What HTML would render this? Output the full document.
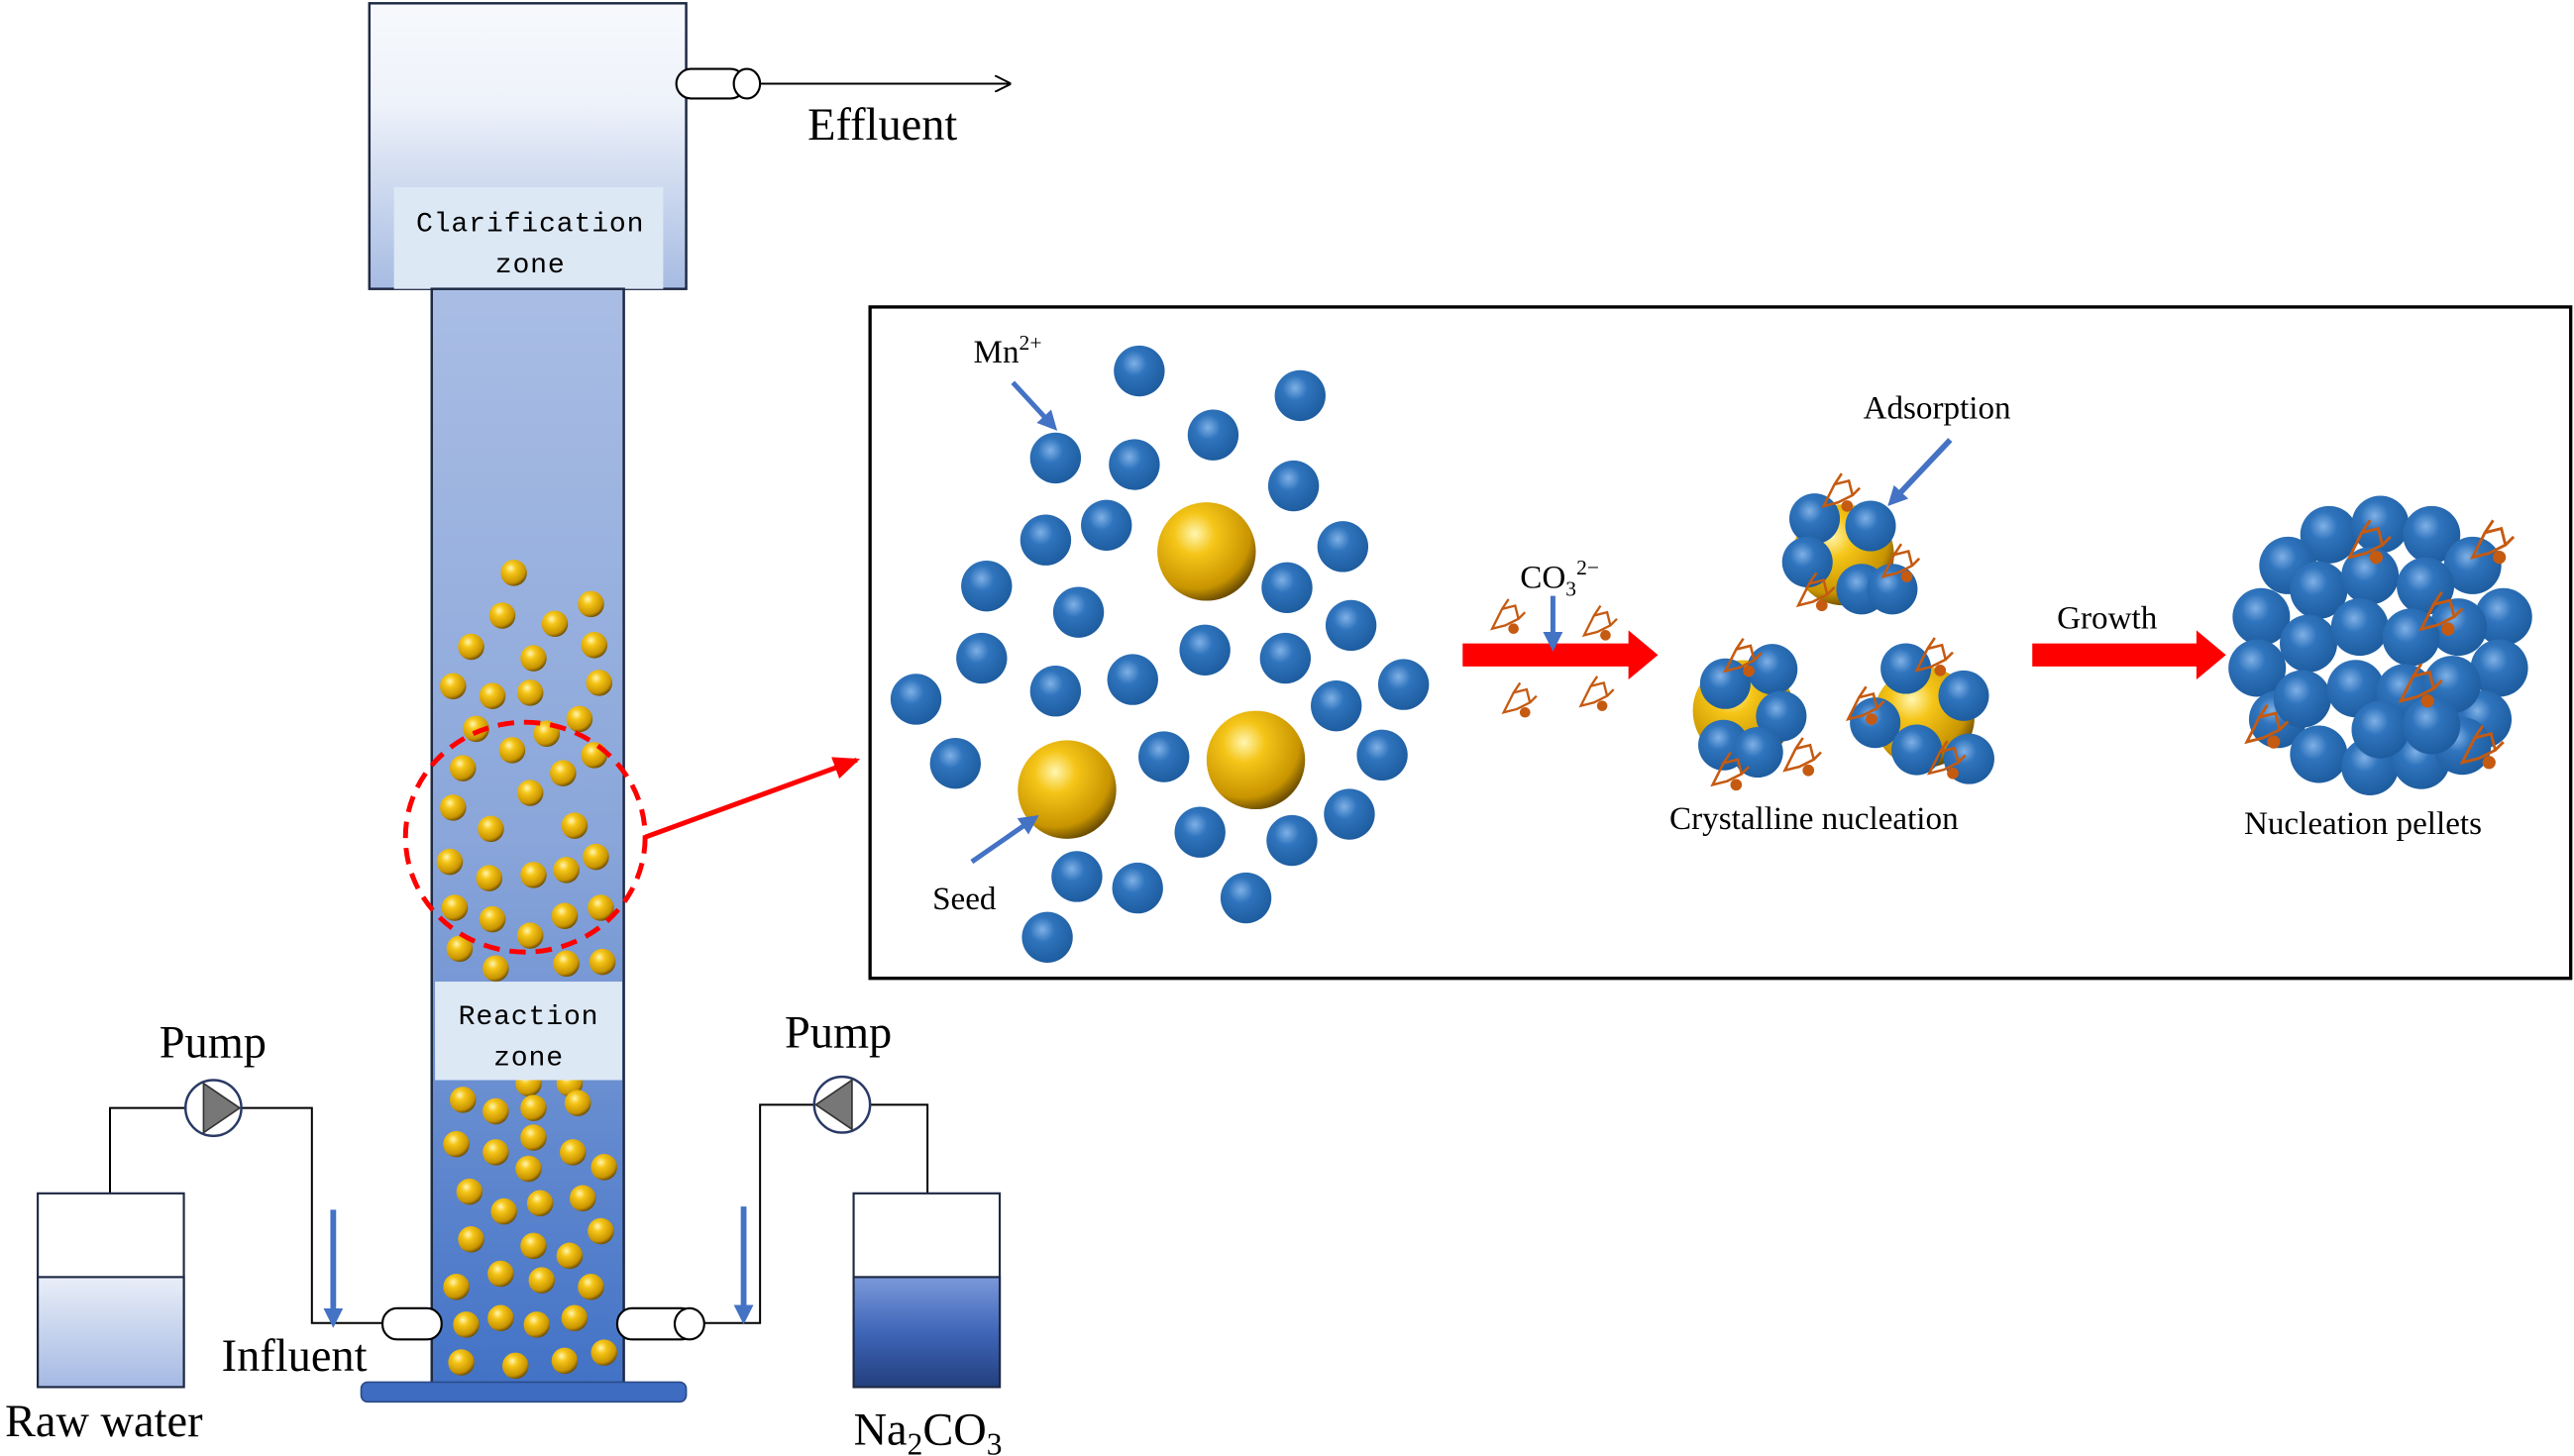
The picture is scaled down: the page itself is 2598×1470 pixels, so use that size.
<!DOCTYPE html>
<html><head><meta charset="utf-8"><style>
html,body{margin:0;padding:0;background:#fff;}
svg{display:block;}
text{font-family:"Liberation Serif",serif;fill:#000;}
.mono{font-family:"Liberation Mono",monospace;font-weight:normal;letter-spacing:0.5px;}
</style></head><body>
<svg width="2598" height="1470" viewBox="0 0 1568 887" preserveAspectRatio="none" xmlns="http://www.w3.org/2000/svg">
<defs>
<linearGradient id="top" x1="0" y1="0" x2="0" y2="1"><stop offset="0" stop-color="#f7f9fc"/><stop offset="0.35" stop-color="#eef2fa"/><stop offset="1" stop-color="#a6bbe2"/></linearGradient>
<linearGradient id="col" x1="0" y1="0" x2="0" y2="1"><stop offset="0" stop-color="#a9bde4"/><stop offset="0.5" stop-color="#8aa6da"/><stop offset="1" stop-color="#4272c6"/></linearGradient>
<linearGradient id="tank1" x1="0" y1="0" x2="0" y2="1"><stop offset="0" stop-color="#e9eef8"/><stop offset="1" stop-color="#a4b9e3"/></linearGradient>
<linearGradient id="tank2" x1="0" y1="0" x2="0" y2="1"><stop offset="0" stop-color="#7b98da"/><stop offset="0.5" stop-color="#3f66b8"/><stop offset="1" stop-color="#233f7e"/></linearGradient>
<radialGradient id="gold" cx="0.38" cy="0.32" r="0.7"><stop offset="0" stop-color="#fff6b0"/><stop offset="0.3" stop-color="#f5c518"/><stop offset="0.8" stop-color="#c89400"/><stop offset="1" stop-color="#6d4e00"/></radialGradient>
<radialGradient id="blue" cx="0.4" cy="0.35" r="0.7"><stop offset="0" stop-color="#7fb0e6"/><stop offset="0.35" stop-color="#2f74bd"/><stop offset="1" stop-color="#1c5a9c"/></radialGradient>
<marker id="ah" markerWidth="10" markerHeight="10" refX="9" refY="5" orient="auto" markerUnits="userSpaceOnUse"><path d="M0,0 L10,5 L0,10" fill="none" stroke="#000" stroke-width="1.2"/></marker>
<marker id="bh" markerWidth="12" markerHeight="12" refX="6" refY="6" orient="auto" markerUnits="userSpaceOnUse"><path d="M0,0 L12,6 L0,12 z" fill="#4472c4"/></marker>
<marker id="rh" markerWidth="16" markerHeight="14" refX="14" refY="7" orient="auto" markerUnits="userSpaceOnUse"><path d="M0,0 L16,7 L0,14 z" fill="#f00"/></marker>
<g id="gb"><circle r="8" fill="url(#gold)"/></g>
<g id="bb"><circle r="15.5" fill="url(#blue)"/></g>
<g id="sb"><circle r="14" fill="url(#blue)"/></g>
<g id="co" fill="none" stroke="#c55a11" stroke-width="1.4"><path d="M-10,6 L-4,-6 L4,-8 L6,0 L-2,4 Z M-4,-6 L0,-12 M6,0 L10,-4"/><circle cx="3" cy="6" r="2.5" fill="#c55a11"/></g>
</defs>

<rect x="225" y="2" width="193" height="174" fill="url(#top)" stroke="#1f2a44" stroke-width="1.5"/>
<rect x="240" y="114" width="164" height="62" fill="#dde8f5"/>
<text class="mono" x="323" y="141" font-size="17" text-anchor="middle">Clarification</text>
<text class="mono" x="323" y="166" font-size="17" text-anchor="middle">zone</text>
<rect x="412" y="42" width="42" height="18" rx="9" fill="#fff" stroke="#000" stroke-width="1.3"/>
<ellipse cx="455" cy="51" rx="8" ry="9" fill="#fff" stroke="#000" stroke-width="1.3"/>
<line x1="463" y1="51" x2="615" y2="51" stroke="#000" stroke-width="1.2" marker-end="url(#ah)"/>
<text x="492" y="85" font-size="28">Effluent</text>

<rect x="263" y="176" width="117" height="668" fill="url(#col)" stroke="#1f2a44" stroke-width="1.5"/>
<rect x="220" y="842" width="198" height="12" rx="4" fill="#3e6cc0" stroke="#2a4a8a" stroke-width="1"/>

<g>
<use href="#gb" x="313" y="349"/><use href="#gb" x="306" y="375"/><use href="#gb" x="338" y="380"/><use href="#gb" x="360" y="368"/>
<use href="#gb" x="287" y="394"/><use href="#gb" x="325" y="401"/><use href="#gb" x="362" y="393"/><use href="#gb" x="276" y="418"/>
<use href="#gb" x="300" y="424"/><use href="#gb" x="323" y="422"/><use href="#gb" x="365" y="416"/><use href="#gb" x="290" y="444"/>
<use href="#gb" x="333" y="447"/><use href="#gb" x="353" y="438"/><use href="#gb" x="282" y="468"/><use href="#gb" x="312" y="457"/>
<use href="#gb" x="343" y="471"/><use href="#gb" x="362" y="460"/><use href="#gb" x="276" y="492"/><use href="#gb" x="299" y="505"/>
<use href="#gb" x="323" y="483"/><use href="#gb" x="350" y="503"/><use href="#gb" x="274" y="525"/><use href="#gb" x="298" y="535"/>
<use href="#gb" x="325" y="533"/><use href="#gb" x="345" y="530"/><use href="#gb" x="363" y="522"/><use href="#gb" x="277" y="553"/>
<use href="#gb" x="300" y="560"/><use href="#gb" x="323" y="570"/><use href="#gb" x="344" y="558"/><use href="#gb" x="366" y="553"/>
<use href="#gb" x="280" y="578"/><use href="#gb" x="302" y="590"/><use href="#gb" x="345" y="587"/><use href="#gb" x="367" y="586"/>
<use href="#gb" x="322" y="660"/><use href="#gb" x="347" y="660"/>
<use href="#gb" x="282" y="670"/><use href="#gb" x="302" y="677"/><use href="#gb" x="325" y="675"/><use href="#gb" x="352" y="672"/>
<use href="#gb" x="278" y="697"/><use href="#gb" x="302" y="702"/><use href="#gb" x="325" y="693"/><use href="#gb" x="349" y="702"/>
<use href="#gb" x="368" y="711"/><use href="#gb" x="286" y="726"/><use href="#gb" x="307" y="738"/><use href="#gb" x="329" y="733"/>
<use href="#gb" x="355" y="730"/><use href="#gb" x="287" y="755"/><use href="#gb" x="325" y="759"/><use href="#gb" x="347" y="765"/>
<use href="#gb" x="366" y="750"/><use href="#gb" x="278" y="784"/><use href="#gb" x="305" y="776"/><use href="#gb" x="330" y="780"/>
<use href="#gb" x="360" y="784"/><use href="#gb" x="284" y="807"/><use href="#gb" x="305" y="803"/><use href="#gb" x="327" y="807"/>
<use href="#gb" x="350" y="803"/><use href="#gb" x="368" y="824"/><use href="#gb" x="281" y="830"/><use href="#gb" x="314" y="832"/>
<use href="#gb" x="344" y="829"/><use href="#gb" x="322" y="712"/>
</g>
<rect x="265" y="598" width="114" height="60" fill="#dde8f5"/>
<text class="mono" x="322" y="624" font-size="17" text-anchor="middle">Reaction</text>
<text class="mono" x="322" y="649" font-size="17" text-anchor="middle">zone</text>

<ellipse cx="320" cy="510" rx="73" ry="70" fill="none" stroke="#f00" stroke-width="3" stroke-dasharray="10,6"/>
<line x1="393" y1="510" x2="522" y2="463" stroke="#f00" stroke-width="3" marker-end="url(#rh)"/>

<polyline points="67,727 67,675 113,675" fill="none" stroke="#000" stroke-width="1.2"/>
<polyline points="147,675 190,675 190,806 233,806" fill="none" stroke="#000" stroke-width="1.2"/>
<circle cx="130" cy="675" r="17" fill="#fff" stroke="#2a3a66" stroke-width="1.5"/>
<path d="M124,660 L146,675 L124,690 Z" fill="#777" stroke="#333" stroke-width="1"/>
<text x="97" y="644" font-size="28">Pump</text>
<line x1="203" y1="737" x2="203" y2="803" stroke="#4472c4" stroke-width="3.5" marker-end="url(#bh)"/>
<rect x="233" y="797" width="36" height="19" rx="9" fill="#fff" stroke="#000" stroke-width="1.3"/>
<rect x="23" y="727" width="89" height="118" fill="#fff" stroke="#1f2a44" stroke-width="1.3"/>
<rect x="23" y="778" width="89" height="67" fill="url(#tank1)" stroke="#1f2a44" stroke-width="1.3"/>
<text x="135" y="835" font-size="28">Influent</text>
<text x="3" y="875" font-size="28">Raw water</text>

<polyline points="565,727 565,673 530,673" fill="none" stroke="#000" stroke-width="1.2"/>
<polyline points="496,673 463,673 463,806 425,806" fill="none" stroke="#000" stroke-width="1.2"/>
<circle cx="513" cy="673" r="17" fill="#fff" stroke="#2a3a66" stroke-width="1.5"/>
<path d="M519,658 L497,673 L519,688 Z" fill="#777" stroke="#333" stroke-width="1"/>
<text x="478" y="638" font-size="28">Pump</text>
<line x1="453" y1="735" x2="453" y2="801" stroke="#4472c4" stroke-width="3.5" marker-end="url(#bh)"/>
<rect x="376" y="797" width="48" height="19" rx="9" fill="#fff" stroke="#000" stroke-width="1.3"/>
<ellipse cx="420" cy="806.5" rx="9" ry="9.5" fill="#fff" stroke="#000" stroke-width="1.3"/>
<rect x="520" y="727" width="89" height="118" fill="#fff" stroke="#1f2a44" stroke-width="1.3"/>
<rect x="520" y="778" width="89" height="67" fill="url(#tank2)" stroke="#1f2a44" stroke-width="1.3"/>
<text x="520" y="880" font-size="28">Na<tspan font-size="19" dy="6">2</tspan><tspan dy="-6">CO</tspan><tspan font-size="19" dy="6">3</tspan></text>

<rect x="530" y="187" width="1036" height="409" fill="#fff" stroke="#000" stroke-width="2"/>
<g>
<use href="#bb" x="694" y="226"/><use href="#bb" x="792" y="241"/><use href="#bb" x="643" y="279"/><use href="#bb" x="739" y="265"/>
<use href="#bb" x="691" y="283"/><use href="#bb" x="788" y="296"/><use href="#bb" x="637" y="329"/><use href="#bb" x="674" y="320"/>
<use href="#bb" x="818" y="333"/><use href="#bb" x="601" y="357"/><use href="#bb" x="657" y="373"/><use href="#bb" x="784" y="358"/>
<use href="#bb" x="823" y="381"/><use href="#bb" x="598" y="401"/><use href="#bb" x="734" y="396"/><use href="#bb" x="690" y="414"/>
<use href="#bb" x="783" y="401"/><use href="#bb" x="643" y="421"/><use href="#bb" x="558" y="426"/><use href="#bb" x="855" y="417"/>
<use href="#bb" x="814" y="430"/><use href="#bb" x="582" y="465"/><use href="#bb" x="709" y="461"/><use href="#bb" x="842" y="460"/>
<use href="#bb" x="822" y="496"/><use href="#bb" x="731" y="507"/><use href="#bb" x="787" y="512"/><use href="#bb" x="656" y="534"/>
<use href="#bb" x="693" y="541"/><use href="#bb" x="759" y="547"/><use href="#bb" x="638" y="571"/>
</g>
<circle cx="735" cy="336" r="30" fill="url(#gold)"/>
<circle cx="650" cy="481" r="30" fill="url(#gold)"/>
<circle cx="765" cy="463" r="30" fill="url(#gold)"/>
<text x="593" y="221" font-size="20">Mn<tspan font-size="13" dy="-8">2+</tspan></text>
<line x1="617" y1="233" x2="640" y2="258" stroke="#4472c4" stroke-width="3" marker-end="url(#bh)"/>
<text x="568" y="554" font-size="20">Seed</text>
<line x1="592" y1="525" x2="628" y2="500" stroke="#4472c4" stroke-width="3" marker-end="url(#bh)"/>

<path d="M891,392 L992,392 L992,384 L1010,399 L992,414 L992,406 L891,406 Z" fill="#f00"/>
<path d="M1238,392 L1338,392 L1338,384 L1356,399 L1338,414 L1338,406 L1238,406 Z" fill="#f00"/>
<text x="926" y="358" font-size="20">CO<tspan font-size="13" dy="5">3</tspan><tspan font-size="13" dy="-13">2−</tspan></text>
<line x1="946" y1="363" x2="946" y2="391" stroke="#4472c4" stroke-width="3" marker-end="url(#bh)"/>
<use href="#co" x="919" y="377"/><use href="#co" x="975" y="381"/><use href="#co" x="926" y="428"/><use href="#co" x="973" y="424"/>
<text x="1253" y="383" font-size="20">Growth</text>

<g transform="translate(1123,338) scale(1.1) translate(-1123,-338)">
<circle cx="1123" cy="338" r="28" fill="url(#gold)"/>
<use href="#sb" x="1107" y="318"/><use href="#sb" x="1138" y="322"/><use href="#sb" x="1103" y="342"/><use href="#sb" x="1133" y="357"/><use href="#sb" x="1150" y="357"/>
<use href="#co" x="1122" y="305"/><use href="#co" x="1155" y="344"/><use href="#co" x="1108" y="360"/>
</g>
<text x="1135" y="255" font-size="20">Adsorption</text>
<line x1="1188" y1="268" x2="1154" y2="304" stroke="#4472c4" stroke-width="3.5" marker-end="url(#bh)"/>

<g transform="translate(1062,433) scale(1.1) translate(-1062,-433)">
<circle cx="1062" cy="433" r="28" fill="url(#gold)"/>
<use href="#sb" x="1078" y="410"/><use href="#sb" x="1052" y="418"/><use href="#sb" x="1083" y="436"/><use href="#sb" x="1051" y="452"/><use href="#sb" x="1070" y="456"/>
<use href="#co" x="1062" y="405"/><use href="#co" x="1095" y="460"/><use href="#co" x="1055" y="468"/>
</g>
<g transform="translate(1172,437) scale(1.1) translate(-1172,-437)">
<circle cx="1172" cy="437" r="28" fill="url(#gold)"/>
<use href="#sb" x="1162" y="410"/><use href="#sb" x="1194" y="425"/><use href="#sb" x="1145" y="440"/><use href="#sb" x="1197" y="460"/><use href="#sb" x="1168" y="455"/>
<use href="#co" x="1140" y="432"/><use href="#co" x="1178" y="405"/><use href="#co" x="1185" y="462"/>
</g>
<text x="1017" y="505" font-size="20">Crystalline nucleation</text>

<g transform="translate(1450,392) scale(1.25) translate(-1450,-398)">
<use href="#sb" x="1425" y="345"/><use href="#sb" x="1450" y="340"/><use href="#sb" x="1475" y="345"/><use href="#sb" x="1495" y="360"/>
<use href="#sb" x="1405" y="360"/><use href="#sb" x="1392" y="385"/><use href="#sb" x="1390" y="410"/><use href="#sb" x="1400" y="435"/>
<use href="#sb" x="1510" y="385"/><use href="#sb" x="1508" y="410"/><use href="#sb" x="1500" y="435"/><use href="#sb" x="1420" y="452"/>
<use href="#sb" x="1445" y="458"/><use href="#sb" x="1470" y="455"/><use href="#sb" x="1490" y="448"/><use href="#sb" x="1420" y="372"/>
<use href="#sb" x="1445" y="365"/><use href="#sb" x="1472" y="370"/><use href="#sb" x="1488" y="390"/><use href="#sb" x="1415" y="398"/>
<use href="#sb" x="1440" y="390"/><use href="#sb" x="1465" y="395"/><use href="#sb" x="1412" y="425"/><use href="#sb" x="1438" y="420"/>
<use href="#sb" x="1462" y="422"/><use href="#sb" x="1485" y="418"/><use href="#sb" x="1450" y="440"/><use href="#sb" x="1475" y="438"/>
<use href="#co" x="1445" y="350"/><use href="#co" x="1480" y="385"/><use href="#co" x="1470" y="420"/><use href="#co" x="1395" y="440"/><use href="#co" x="1500" y="450"/><use href="#co" x="1505" y="350"/>
</g>
<text x="1367" y="508" font-size="20">Nucleation pellets</text>
</svg>
</body></html>
